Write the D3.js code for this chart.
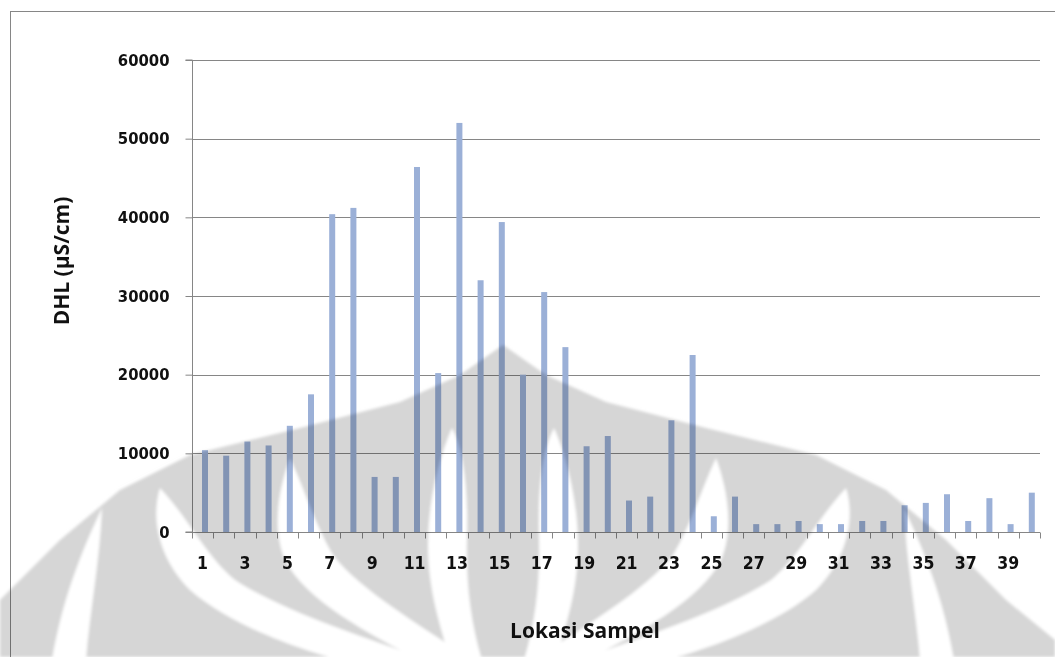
<!DOCTYPE html>
<html>
<head>
<meta charset="utf-8">
<script src="https://cdn.jsdelivr.net/npm/d3@7"></script>
<style>
  html, body { margin: 0; padding: 0; background: #fff; }
  svg { display: block; }
</style>
</head>
<body>
<svg id="chart" width="1055" height="657"></svg>
<script>
// ---- data ----
const categories = ["1","2","3","4","5","6","7","8","9","10",
  "11","12","13","14","15","16","17","18","19","20",
  "21","22","23","24","25","26","27","28","29","30",
  "31","32","33","34","35","36","37","38","39","40"];
const dhlValues = [10400, 9700, 11500, 11000, 13500, 17500, 40400, 41200, 7000, 7000,
  46400, 20200, 52000, 32000, 39400, 20000, 30500, 23500, 10900, 12200,
  4000, 4500, 14200, 22500, 2000, 4500, 1000, 1000, 1400, 1000,
  1000, 1400, 1400, 3400, 3700, 4800, 1400, 4300, 1000, 5000];
const yTicks = [0, 10000, 20000, 30000, 40000, 50000, 60000];
const xTickLabels = ["1","3","5","7","9","11","13","15","17","19",
  "21","23","25","27","29","31","33","35","37","39"];
const yTitle = "DHL (µS/cm)";
const xTitle = "Lokasi Sampel";

// ---- layout ----
const svg = d3.select("#chart");
const plot = { left: 192, right: 1040, top: 60, bottom: 532 };
const axisColor = "#868686";
const barColor = "#9bb0d7";
const numFont = "'DejaVu Sans Condensed', 'DejaVu Sans', sans-serif";
const titleFont = "'Open Sans', 'Noto Sans', sans-serif";

const x = d3.scaleBand().domain(categories).range([plot.left, plot.right]).padding(0);
const y = d3.scaleLinear().domain([0, 60000]).range([plot.bottom, plot.top]);

// outer chart frame (cut by the page edges)
svg.append("rect")
  .attr("x", 10.5).attr("y", 11.5).attr("width", 1100).attr("height", 700)
  .attr("fill", "#fff").attr("stroke", axisColor).attr("stroke-width", 1);

// gridlines
svg.append("g")
  .selectAll("line").data(yTicks.filter(d => d > 0)).join("line")
  .attr("x1", plot.left).attr("x2", plot.right)
  .attr("y1", d => Math.round(y(d)) + 0.5).attr("y2", d => Math.round(y(d)) + 0.5)
  .attr("stroke", axisColor).attr("stroke-width", 1);

// bars
const barW = 6;
svg.append("g")
  .selectAll("rect").data(categories.map((c, i) => ({ c, v: dhlValues[i] }))).join("rect")
  .attr("x", d => x(d.c) + 10)
  .attr("y", d => y(d.v))
  .attr("width", barW)
  .attr("height", d => y(0) - y(d.v))
  .attr("fill", barColor);

// y axis
const yAxis = d3.axisLeft(y).tickValues(yTicks).tickSize(7).tickPadding(16).tickFormat(d3.format("d"));
const gy = svg.append("g").attr("transform", `translate(${plot.left + 0.5},0)`).call(yAxis);
gy.select(".domain").attr("stroke", axisColor).attr("d", `M-7,${plot.top}H0V${plot.bottom}H-7`);
gy.selectAll(".tick line").attr("stroke", axisColor);
gy.selectAll(".tick text")
  .attr("fill", "#111").attr("font-family", numFont).attr("font-weight", "bold").attr("font-size", 16.5);

// x axis
const xAxis = d3.axisBottom(x).tickValues(xTickLabels).tickSize(0).tickPadding(24);
const gx = svg.append("g").attr("transform", `translate(0,${plot.bottom + 0.5})`).call(xAxis);
gx.select(".domain").attr("stroke", axisColor).attr("d", `M${plot.left},0H${plot.right}`);
gx.selectAll(".tick text")
  .attr("fill", "#111").attr("font-family", numFont).attr("font-weight", "bold").attr("font-size", 17.5);
// tick marks at category boundaries
const boundaries = categories.map(c => x(c)).concat([plot.right]);
gx.append("g").selectAll("line").data(boundaries).join("line")
  .attr("x1", d => Math.round(d) + 0.5).attr("x2", d => Math.round(d) + 0.5)
  .attr("y1", 0).attr("y2", 6).attr("stroke", axisColor);

// axis titles
svg.append("text")
  .attr("transform", "translate(69,261) rotate(-90)")
  .attr("text-anchor", "middle")
  .attr("font-family", titleFont).attr("font-weight", 700).attr("font-size", 21)
  .attr("fill", "#111").text(yTitle);
svg.append("text")
  .attr("x", 585).attr("y", 638)
  .attr("text-anchor", "middle")
  .attr("font-family", titleFont).attr("font-weight", 700).attr("font-size", 21)
  .attr("fill", "#111").text(xTitle);

// ---- faint background watermark (scanned page logo), multiplied over the chart ----
const defs = svg.append("defs");
defs.append("filter").attr("id", "soft").append("feGaussianBlur").attr("stdDeviation", 1.6);
const wm = svg.append("g").style("mix-blend-mode", "multiply").attr("pointer-events", "none")
  .attr("filter", "url(#soft)");
wm.append("path")
  .attr("d", "M0,600 L60,540 L120,490 L190,455 L300,428 L400,402 L460,375 L503,345 L546,375 L606,402 L706,428 L816,455 L886,490 L946,540 L1006,600 L1055,640 L1055,657 L0,657 Z")
  .attr("fill", "#d6d6d6");
const bands = [
  "M452,428 C440,455 428,500 428,545 C428,590 440,625 450,660 L482,660 C470,620 466,580 467,540 C468,500 466,455 452,428 Z",
  "M290,458 C278,490 272,530 285,560 C305,600 370,635 420,660 L472,660 C420,625 360,590 333,555 C315,525 305,490 290,458 Z",
  "M160,488 C150,520 160,560 190,590 C230,625 300,650 340,660 L430,660 C370,640 280,610 235,580 C205,555 190,520 160,488 Z",
  "M102,508 C82,550 62,600 52,660 L86,660 C90,610 100,560 102,508 Z"
];
const halves = [null, "translate(1006,0) scale(-1,1)"];
halves.forEach(t => {
  const g = wm.append("g");
  if (t) g.attr("transform", t);
  g.selectAll("path").data(bands).join("path")
    .attr("d", d => d).attr("fill", "#fff");
});
</script>
</body>
</html>
